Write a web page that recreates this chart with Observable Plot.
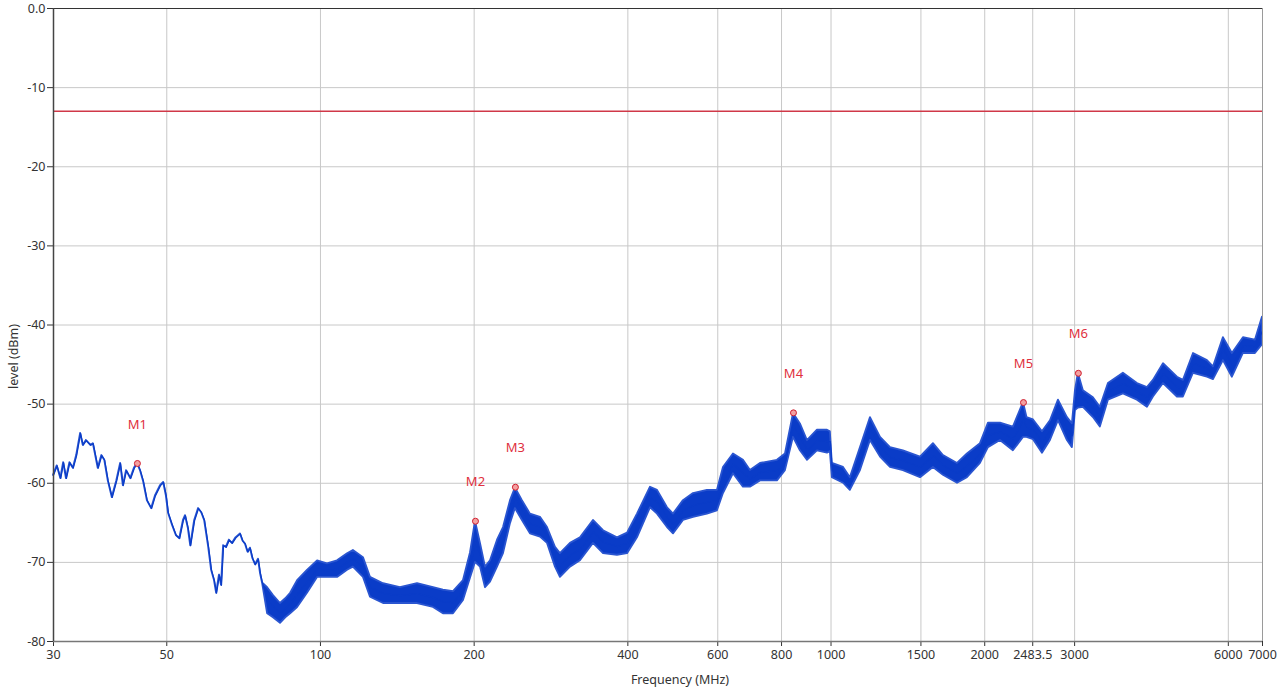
<!DOCTYPE html>
<html>
<head>
<meta charset="utf-8">
<script src="https://cdn.jsdelivr.net/npm/d3@7"></script>
<script src="https://cdn.jsdelivr.net/npm/@observablehq/plot@0.6"></script>
<style>
  html, body { margin: 0; padding: 0; background: #fff; }
  #chart { width: 1282px; height: 695px; }
</style>
</head>
<body>
<div id="chart"></div>
<script>
// ---- data ----
const xTicks = [30, 50, 100, 200, 400, 600, 800, 1000, 1500, 2000, 2483.5, 3000, 6000, 7000];
const yTicks = [0, -10, -20, -30, -40, -50, -60, -70, -80];
const limitLevel = -13;

// frequency (MHz) and lower / upper envelope of the measured trace (dBm)
const freq = [
  30.0, 30.5, 31.0, 31.4, 31.8, 32.3, 32.8, 33.3, 33.9, 34.3, 34.8, 35.5, 35.9, 36.7, 37.3, 37.8,
  38.4, 39.1, 39.9, 40.6, 41.1, 41.7, 42.5, 43.2, 43.8, 44.4, 45.0, 45.8, 46.7, 47.5, 48.6, 49.3,
  49.9, 50.4, 51.3, 52.2, 53.0, 53.9, 54.4, 55.1, 55.7, 56.7, 57.7, 58.5, 59.3, 60.4, 61.2, 62.0,
  62.6, 63.4, 64.0, 64.6, 65.4, 66.3, 67.2, 68.3, 69.7, 70.5, 71.3, 72.1, 72.9, 73.7, 74.6, 75.6, 76.3, 77.0,
  78.8, 80.9, 83.5, 85.5, 87.4, 90.2, 94.3, 98.7, 103.2, 108.0, 113.0, 116.0, 121.4, 125.3, 132.9,
  143.4, 154.9, 166.5, 174.1, 182.2, 190.6, 196.7,
  201.2, 205.8, 210.5, 215.3, 222.2, 228.3, 235.6, 240.9, 248.6, 257.8, 269.7, 278.4, 288.6, 295.1,
  308.8, 323.0, 342.5, 358.4, 381.7, 399.4, 417.7, 443.0, 457.2, 478.3, 491.4, 514.0, 537.8, 572.7,
  599.0, 615.6, 644.0, 673.7, 695.3, 727.4, 785.3, 814.2, 844.2, 871, 899, 940.6, 984.1, 997,
  1006, 1057.9, 1091, 1142, 1194.7, 1250, 1307.5, 1386, 1497, 1587, 1660, 1769, 1850, 1962,
  2034, 2147, 2276, 2382, 2420, 2492, 2595, 2690, 2789, 2904, 2970,
  3011, 3051, 3121, 3265, 3369, 3494, 3738, 3982, 4166, 4280, 4479, 4769, 4900, 5128, 5460,
  5611, 5869, 6111, 6423, 6781, 7000
];
const low = [
  -59.0, -57.8, -59.4, -57.4, -59.4, -57.4, -58.1, -56.5, -53.7, -55.2, -54.6, -55.2, -55.0, -58.1, -56.5, -57.1,
  -59.7, -61.8, -59.7, -57.5, -60.3, -58.4, -59.4, -58.1, -57.5, -58.4, -59.7, -62.2, -63.2, -61.6, -60.3, -59.9,
  -61.6, -63.8, -65.3, -66.6, -67.0, -64.7, -64.1, -65.7, -67.9, -64.7, -63.2, -63.7, -64.7, -68.1, -71.0, -72.3,
  -73.9, -71.6, -72.9, -67.9, -68.1, -67.2, -67.6, -66.9, -66.4, -67.3, -67.7, -68.7, -68.2, -69.5, -70.3, -69.6, -71.4, -72.6,
  -76.5, -77.0, -77.7, -77.0, -76.5, -75.7, -73.9, -71.9, -71.9, -71.9, -71.0, -70.6, -71.9, -74.4, -75.2,
  -75.2, -75.2, -75.7, -76.5, -76.5, -74.8, -72.0,
  -70.0, -70.6, -73.2, -72.5, -70.6, -68.9, -65.1, -63.2, -64.7, -66.4, -66.8, -67.6, -70.6, -71.9,
  -70.6, -69.8, -67.6, -68.9, -69.1, -68.9, -66.9, -63.1, -63.9, -65.6, -66.4, -64.7, -64.3, -63.9,
  -63.5, -61.3, -58.8, -60.5, -60.5, -59.7, -59.7, -58.4, -54.2, -55.9, -57.1, -55.9, -56.2, -56.0,
  -59.3, -60.0, -60.9, -58.4, -54.6, -56.7, -58.0, -58.4, -59.3, -58.0, -59.0, -60.0, -59.3, -57.5,
  -55.5, -54.6, -55.9, -54.2, -54.2, -54.5, -56.2, -54.6, -52.1, -54.6, -55.5,
  -50.8, -50.5, -50.4, -51.7, -52.9, -49.5, -48.7, -49.5, -50.4, -49.1, -47.4, -49.1, -49.1, -46.1, -46.6,
  -46.9, -44.5, -46.6, -43.6, -43.6, -42.5
];
const high = [
  -59.0, -57.8, -59.4, -57.4, -59.4, -57.4, -58.1, -56.5, -53.7, -55.2, -54.6, -55.2, -55.0, -58.1, -56.5, -57.1,
  -59.7, -61.8, -59.7, -57.5, -60.3, -58.4, -59.4, -58.1, -57.5, -58.4, -59.7, -62.2, -63.2, -61.6, -60.3, -59.9,
  -61.6, -63.8, -65.3, -66.6, -67.0, -64.7, -64.1, -65.7, -67.9, -64.7, -63.2, -63.7, -64.7, -68.1, -71.0, -72.3,
  -73.9, -71.6, -72.9, -67.9, -68.1, -67.2, -67.6, -66.9, -66.4, -67.3, -67.7, -68.7, -68.2, -69.5, -70.3, -69.6, -71.4, -72.6,
  -73.2, -74.2, -75.2, -74.6, -73.9, -72.3, -71.0, -69.8, -70.2, -69.8, -68.9, -68.5, -69.4, -71.9, -72.7,
  -73.2, -72.7, -73.2, -73.5, -73.7, -72.3, -68.8,
  -64.8, -67.6, -70.6, -69.8, -67.2, -65.6, -62.2, -60.6, -62.2, -63.9, -64.3, -65.6, -68.1, -68.9,
  -67.6, -66.9, -64.7, -66.0, -66.9, -66.3, -63.9, -60.5, -60.9, -63.1, -63.9, -62.2, -61.3, -60.9,
  -60.9, -58.0, -56.3, -57.1, -58.4, -57.5, -57.1, -56.3, -51.2, -52.5, -54.6, -53.3, -53.3, -53.5,
  -57.5, -58.0, -59.3, -55.5, -51.7, -54.2, -55.5, -55.9, -56.7, -55.0, -56.5, -57.5, -56.3, -55.0,
  -52.4, -52.4, -52.9, -49.8, -51.7, -52.0, -53.5, -52.1, -49.5, -51.7, -52.5,
  -48.3, -46.1, -48.3, -49.2, -50.4, -47.4, -46.1, -47.4, -47.9, -47.0, -44.9, -46.6, -47.0, -43.6, -44.5,
  -45.3, -41.6, -43.6, -41.6, -41.9, -39.0
];

// markers
const markerName = ["M1", "M2", "M3", "M4", "M5", "M6"];
const markerFreq = [43.8, 201.2, 240.9, 844.2, 2382, 3051];
const markerLevel = [-57.5, -64.8, -60.5, -51.1, -49.8, -46.1];

// ---- build tables ----
const trace = freq.map((f, i) => ({ f, lo: low[i], hi: high[i], mid: (low[i] + high[i]) / 2 }));
const markers = markerName.map((n, i) => ({ n, f: markerFreq[i], v: markerLevel[i] }));

const blue = "#0a3cc8";
const chart = Plot.plot({
  width: 1282,
  height: 695,
  marginLeft: 53,
  marginRight: 20,
  marginTop: 8,
  marginBottom: 54,
  style: { fontFamily: "'Noto Sans', 'Open Sans', sans-serif", fontSize: "12px", color: "#333", background: "#fff" },
  x: { type: "log", domain: [30, 7000], axis: null },
  y: { domain: [-80, 0] },
  marks: [
    Plot.gridX(xTicks, { stroke: "#c8c8c8", strokeOpacity: 1 }),
    Plot.gridY(yTicks, { stroke: "#c8c8c8", strokeOpacity: 1 }),
    Plot.ruleY([limitLevel], { stroke: "#d03848", strokeWidth: 1.5 }),
    Plot.areaY(trace, { x: "f", y1: "lo", y2: "hi", fill: blue, stroke: "#2a55d0", strokeWidth: 1.8 }),
    Plot.line(trace, { x: "f", y: "mid", stroke: blue, strokeWidth: 1.2 }),
    Plot.dot(markers, { x: "f", y: "v", r: 3, stroke: "#d02030", fill: "#f3a0a0", strokeWidth: 1 }),
    Plot.text(markers, { x: "f", y: "v", text: "n", dy: -39, fill: "#e03040", fontSize: 13 }),
    // x-axis ticks and labels
    Plot.ruleX(xTicks, { x: d => d, y1: -80, y2: -80, insetBottom: -5, stroke: "#333" }),
    Plot.text(xTicks, { x: d => d, text: d => String(d), frameAnchor: "bottom", lineAnchor: "top", dy: 9, fontSize: 12.5, fill: "#333" }),
    Plot.axisY(yTicks, { tickFormat: d => d === 0 ? "0.0" : String(d), tickSize: 6, tickPadding: 2, label: null, fontSize: 12.5 }),
    Plot.ruleX([7000], { stroke: "#9a9a9a", strokeWidth: 1 }),
    Plot.ruleY([0], { stroke: "#333", strokeWidth: 1.2 }),
    Plot.ruleY([-80], { stroke: "#777", strokeWidth: 1.5 }),
    Plot.ruleX([30], { stroke: "#444", strokeWidth: 1.5 }),
    Plot.text(["Frequency (MHz)"], { frameAnchor: "bottom", dx: 22, dy: 42, fontSize: 12.5, fill: "#333" }),
    Plot.text(["level (dBm)"], { frameAnchor: "left", rotate: -90, dx: -40, dy: 64, fontSize: 12.5, fill: "#333" })
  ]
});
document.getElementById("chart").appendChild(chart);
</script>
</body>
</html>
